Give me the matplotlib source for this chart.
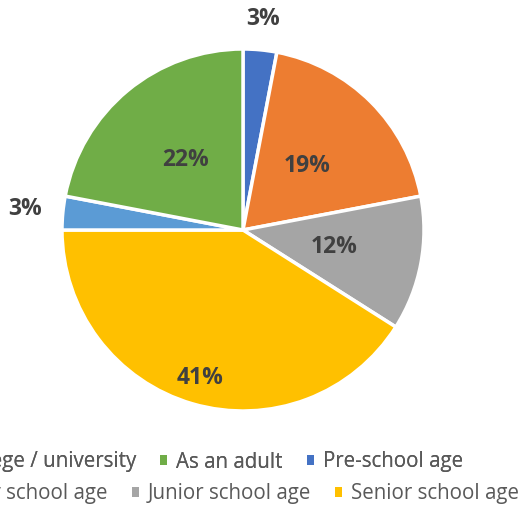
import matplotlib.pyplot as plt
from matplotlib.patches import Patch
import numpy as np

# slices, clockwise from 12 o'clock
labels = ["Pre-school age", "Primary school age", "Junior school age",
          "Senior school age", "College / university", "As an adult"]
shares = [3, 19, 12, 41, 3, 22]
colors = ["#4472C4", "#ED7D31", "#A5A5A5", "#FFC000", "#5B9BD5", "#70AD47"]

# legend rows as shown in the picture
row1 = ["College / university", "As an adult", "Pre-school age"]
row2 = ["Primary school age", "Junior school age", "Senior school age"]

# distance of each label from centre (fraction of radius)
label_r = [1.17, 0.5, 0.51, 0.85, 1.21, 0.5]

W, H = 528, 508
fig = plt.figure(figsize=(W / 100, H / 100), dpi=100)
cx, cy, r = 243, 230, 181
ax = fig.add_axes([(cx - r) / W, 1 - (cy + r) / H, 2 * r / W, 2 * r / H])

wedges, _ = ax.pie(shares, colors=colors, startangle=90, counterclock=False,
                   wedgeprops=dict(edgecolor="white", linewidth=2.5))
ax.set_xlim(-1, 1)
ax.set_ylim(-1, 1)
ax.set_aspect("equal")
ax.axis("off")

for w, v, d in zip(wedges, shares, label_r):
    a = np.deg2rad((w.theta1 + w.theta2) / 2)
    ax.text(d * np.cos(a), d * np.sin(a), f"{v}%", ha="center", va="center",
            fontsize=16.5, fontweight="bold", color="#404040", family="Open Sans",
            clip_on=False)

col = dict(zip(labels, colors))


def legend_row(names, x_right, y):
    hs = [Patch(facecolor=col[n], edgecolor="none") for n in names]
    lg = fig.legend(hs, names, loc="center right", bbox_to_anchor=(x_right / W, 1 - y / H),
                    ncol=3, frameon=False, borderpad=0, borderaxespad=0,
                    handlelength=0.34, handleheight=0.34, handletextpad=0.43,
                    columnspacing=1.18, prop=dict(family="Open Sans", size=14.8))
    for t in lg.get_texts():
        t.set_color("#595959")
    return lg


fig.add_artist(legend_row(row1, 463, 462))
legend_row(row2, 519, 494)

fig.savefig("out.png", dpi=100)
